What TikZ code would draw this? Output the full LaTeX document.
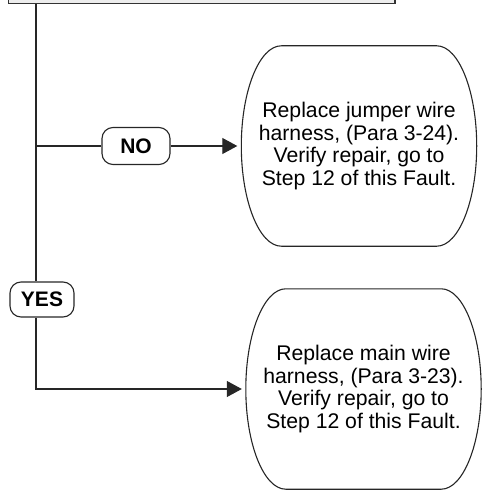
\documentclass[tikz,border=0pt]{standalone}
\usepackage{fontspec}
\setmainfont{Liberation Sans}
\usetikzlibrary{arrows.meta,calc}

\tikzset{
  flow/.style={line width=1.1pt, draw=black!85},
  prevbox/.style={draw=black!80, line width=1.3pt, fill=black!7,
    minimum width=386.5pt, minimum height=30pt, inner sep=0pt},
  answer/.style={draw=black!85, line width=1.1pt, rounded corners=11pt, inner sep=0pt,
    font=\fontsize{21}{24}\selectfont\bfseries},
  action/.style={minimum width=235pt, minimum height=200pt, inner sep=0pt,
    align=center, font=\fontsize{21.2}{22.5}\selectfont},
  tip/.style={-{Triangle[length=15pt,width=16pt]}, shorten >=4pt},
}

% barrel-shaped outline (flat top and bottom, bulging sides) around a node
\newcommand\barrel[1]{%
  \draw[flow] ($(#1.north west)+(40,0)$) -- ($(#1.north east)+(-40,0)$)
    .. controls ($(#1.north east)+(-18,0)$) and ($(#1.east)+(0,-55)$) .. (#1.east)
    .. controls ($(#1.east)+(0,55)$) and ($(#1.south east)+(-18,0)$) .. ($(#1.south east)+(-40,0)$)
    -- ($(#1.south west)+(40,0)$)
    .. controls ($(#1.south west)+(18,0)$) and ($(#1.west)+(0,55)$) .. (#1.west)
    .. controls ($(#1.west)+(0,-55)$) and ($(#1.north west)+(18,0)$) .. cycle;%
}

\begin{document}
\begin{tikzpicture}[x=1pt, y=-1pt]
  \useasboundingbox (0,0) rectangle (482,492);
  \clip (0,0) rectangle (482,492);

  % previous step (only its lower edge is visible)
  \node[prevbox] (prev) at (201.75,-11.5) {};

  % answers
  \node[answer, minimum width=68pt, minimum height=37pt] (no) at (136,146) {NO};
  \node[answer, minimum width=64pt, minimum height=35pt] (yes) at (42,299.5) {YES};

  % actions
  \node[action] (fix1) at (359,146)
    {Replace jumper wire\\harness, (Para 3-24).\\Verify repair, go to\\Step 12 of this Fault.};
  \node[action] (fix2) at (363.5,389)
    {Replace main wire\\harness, (Para 3-23).\\Verify repair, go to\\Step 12 of this Fault.};
  \barrel{fix1}
  \barrel{fix2}

  % trunk line and branches
  \coordinate (trunk) at (36,0);
  \coordinate (nojoin) at (no.west -| trunk);
  \coordinate (yesjoin) at (fix2.west -| trunk);

  \draw[flow] (prev.south -| trunk) -- (yes.north -| trunk);
  \draw[flow] (nojoin) -- (no.west);
  \draw[flow, tip] (no.east) -- (fix1.west);
  \draw[flow, tip] (yes.south -| trunk) -- (yesjoin) -- (fix2.west);
\end{tikzpicture}
\end{document}
